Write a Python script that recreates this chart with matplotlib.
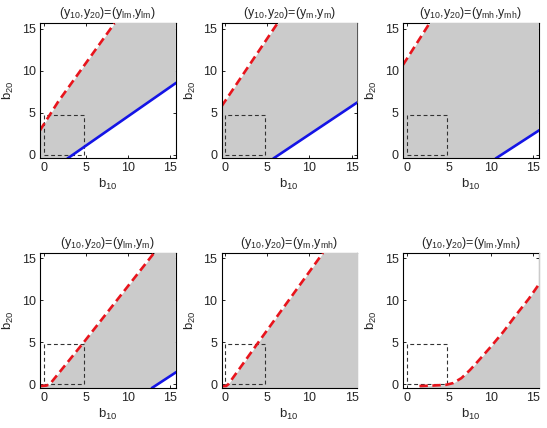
import numpy as np
import matplotlib
matplotlib.use("Agg")
import matplotlib.pyplot as plt

plt.rcParams['font.family'] = ['Liberation Sans', 'DejaVu Sans']
plt.rcParams['mathtext.fontset'] = 'custom'
plt.rcParams['mathtext.rm'] = 'Liberation Sans'
plt.rcParams['mathtext.it'] = 'Liberation Sans'

titles = [
    r'(y$_{10}$,y$_{20}$)=(y$_{lm}$,y$_{lm}$)',
    r'(y$_{10}$,y$_{20}$)=(y$_{m}$,y$_{m}$)',
    r'(y$_{10}$,y$_{20}$)=(y$_{mh}$,y$_{mh}$)',
    r'(y$_{10}$,y$_{20}$)=(y$_{lm}$,y$_{m}$)',
    r'(y$_{10}$,y$_{20}$)=(y$_{m}$,y$_{mh}$)',
    r'(y$_{10}$,y$_{20}$)=(y$_{lm}$,y$_{mh}$)',
]

# red dashed boundary (upper edge of shaded region)
red_x = [
    [-0.45, 1.7, 8.4],
    [-0.45, 6.2],
    [-0.45, 2.7],
    [-0.45, 0.3, 0.7, 4.9, 13.1],
    [-0.45, 0.1, 0.35, 4.07, 11.6],
    [1.5, 3.0, 4.7, 5.5, 6.5, 7.5, 8.5, 10.0, 11.5, 13.0, 14.5, 15.65],
]
red_y = [
    [2.9, 6.3, 15.65],
    [5.75, 15.65],
    [10.7, 15.65],
    [-0.2, -0.15, 0.0, 5.2, 15.65],
    [-0.2, -0.2, 0.0, 5.2, 15.65],
    [-0.2, -0.15, -0.05, 0.15, 0.75, 1.7, 2.8, 4.5, 6.3, 8.3, 10.2, 11.85],
]
# blue solid boundary (lower edge of shaded region)
blue_x = [
    [2.9, 15.65],
    [5.8, 15.65],
    [10.65, 15.65],
    [12.9, 15.65],
    [],
    [],
]
blue_y = [
    [-0.4, 8.5],
    [-0.4, 6.2],
    [-0.4, 2.85],
    [-0.4, 1.4],
    [],
    [],
]
box_lo, box_hi = 0.0, 4.75
ticks = [0, 5, 10, 15]
xlim = (-0.45, 15.65)
ylim = (-0.4, 15.65)

fig = plt.figure(figsize=(5.47, 4.28), dpi=100)
lefts = [40 / 547, 221.5 / 547, 403 / 547]
bottoms = [270 / 428, 40.3 / 428]
w, h = 135.5 / 547, 134.7 / 428

red = '#e8141c'
blue = '#1414e6'
gray = '#cbcbcb'

for i in range(6):
    r, c = divmod(i, 3)
    ax = fig.add_axes([lefts[c], bottoms[r], w, h])
    xg = np.linspace(-1, 16.5, 2000)
    upper = np.interp(xg, red_x[i], red_y[i], left=(20 if red_x[i][0] < 0 else -5), right=20)
    if blue_x[i]:
        lower = np.interp(xg, blue_x[i], blue_y[i], left=-5, right=20)
    else:
        lower = np.full_like(xg, -5)
    ax.fill_between(xg, lower, upper, where=upper > lower, color=gray, lw=0, zorder=3)
    ax.plot(red_x[i], red_y[i], color=red, lw=1.9, ls=(0, (3.2, 1.7)), zorder=5)
    if blue_x[i]:
        ax.plot(blue_x[i], blue_y[i], color=blue, lw=1.9, zorder=5)
    ax.plot([box_lo, box_hi, box_hi, box_lo, box_lo],
            [box_lo, box_lo, box_hi, box_hi, box_lo],
            color='#333333', lw=0.8, ls=(0, (3.5, 2.5)), zorder=4)
    ax.set_xlim(*xlim)
    ax.set_ylim(*ylim)
    ax.set_xticks(ticks)
    ax.set_yticks(ticks)
    ax.tick_params(direction='in', length=2.5, width=0.6, top=True, right=True,
                   labelsize=9, pad=3, labelcolor='#262626')
    for name, s in ax.spines.items():
        s.set_linewidth(0.8)
        if name in ('left', 'bottom'):
            s.set_zorder(6)
    ax.set_title(titles[i], fontsize=9, pad=5, color='#262626')
    ax.set_xlabel(r'b$_{10}$', fontsize=9.5, labelpad=2, color='#262626')
    ax.set_ylabel(r'b$_{20}$', fontsize=9.5, labelpad=4, color='#262626')

fig.savefig('out.png', dpi=100)
